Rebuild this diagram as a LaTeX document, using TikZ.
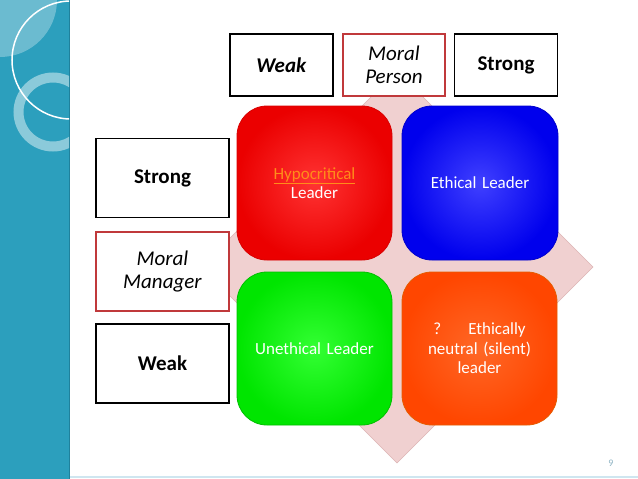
\documentclass[tikz,border=0pt]{standalone}
\usepackage{fontspec}
\setmainfont{Carlito}
\usepackage{xcolor}
\definecolor{stripe}{HTML}{2C9FBD}
\definecolor{stripeedge}{HTML}{1F819C}
\definecolor{diam}{HTML}{F0D0D0}
\definecolor{diamedge}{HTML}{DDB6B6}
\definecolor{redline}{HTML}{C0393B}
\definecolor{hypo}{HTML}{FF8C1A}
\definecolor{pagenum}{HTML}{8FB4C4}
\definecolor{footrule}{HTML}{CFE6F0}
\tikzset{
  labelbox/.style={draw=black, line width=1.6pt, fill=white, align=center,
    minimum width=103pt, minimum height=62pt, inner sep=2pt,
    font=\fontsize{21}{24}\selectfont},
  sidebox/.style={labelbox, minimum width=133pt, minimum height=79pt},
  cell/.style={rounded corners=30pt, minimum width=155pt, minimum height=154pt,
    align=center, text width=130pt, text=white, line width=0.8pt,
    font=\fontsize{17}{19.5}\selectfont}
}
\begin{document}
\begin{tikzpicture}[x=1pt,y=-1pt]
\useasboundingbox (0,0) rectangle (638,479);
\fill[white] (0,0) rectangle (638,479);
\fill[stripe] (0,0) rectangle (70,479);
\draw[stripeedge, line width=1.5pt] (69.5,0) -- (69.5,479);
\begin{scope}
\clip (0,0) rectangle (69,479);
\fill[white, opacity=0.3] (0,0) circle (57);
\draw[white, line width=1.5pt] (71,60) circle (59);
\draw[white, opacity=0.45, line width=10pt] (53,112) circle (34.5);
\end{scope}
\draw[draw=footrule, line width=1.5pt] (70,477) -- (638,477);
\filldraw[fill=diam, draw=diamedge, line width=0.6pt] (397,71) -- (593,267) -- (397,463) -- (201,267) -- cycle;
\node[labelbox](weak) at (281.5,65){\textbf{\textit{Weak}}};
\node[labelbox, draw=redline, minimum width=102pt](person) at (394,65){\textit{Moral}\\[-1pt]\textit{Person}};
\node[labelbox](strong) at (506,65){\textbf{Strong}};
\node[sidebox](mstrong) at (162.5,178){\textbf{Strong}};
\node[sidebox, draw=redline](manager) at (162.5,271.5){\textit{Moral}\\[-1pt]\textit{Manager}};
\node[sidebox](mweak) at (162.5,363.5){\textbf{Weak}};
\node[cell, draw=red!85!black, inner color=red!80!white, outer color=red!92!black](hypocrite) at (314.5,183){\textcolor{hypo}{\underline{Hypocritical}}\\Leader\\[14pt]};
\node[cell, draw=blue!80!black, inner color=blue!75!white, outer color=blue!93!black, minimum width=156pt](ethical) at (480,183){Ethical Leader};
\node[cell, draw=green!75!black, inner color=green!80!white, outer color=green!90!black, minimum height=153pt](unethical) at (314.5,348.5){Unethical Leader};
\node[cell, draw=orange!80!red!90!black, inner color=orange!60!red!85!white, outer color=orange!55!red, minimum height=153pt](neutral) at (479.5,348.5){?\hspace{1.6em}Ethically\\neutral (silent)\\leader\\[8pt]};
\node[text=pagenum, font=\fontsize{10}{12}\selectfont](page) at (611,463){9};
\end{tikzpicture}
\end{document}
